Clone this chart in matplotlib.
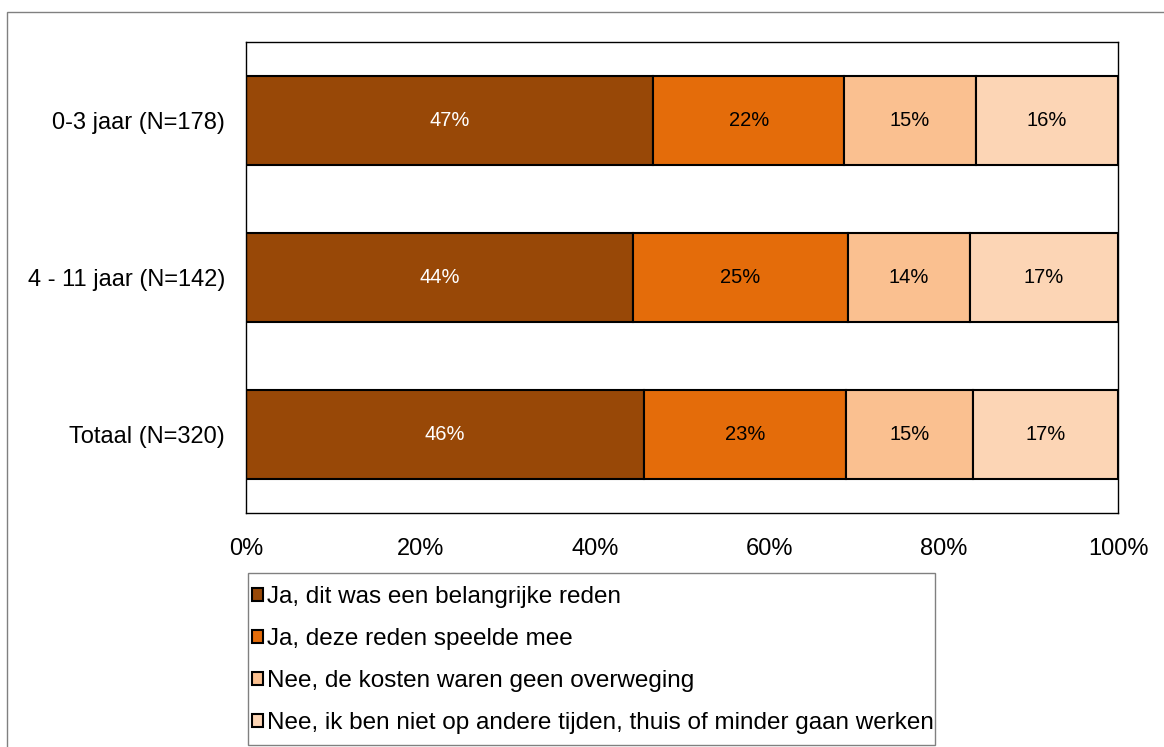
import matplotlib.pyplot as plt
from matplotlib.patches import Rectangle

plt.rcParams['font.family'] = ['Liberation Sans', 'DejaVu Sans']

categories = ['0-3 jaar (N=178)', '4 - 11 jaar (N=142)', 'Totaal (N=320)']
series = [
    'Ja, dit was een belangrijke reden',
    'Ja, deze reden speelde mee',
    'Nee, de kosten waren geen overweging',
    'Nee, ik ben niet op andere tijden, thuis of minder gaan werken',
]
values = [
    [46.7, 44.4, 45.6],
    [21.9, 24.6, 23.2],
    [15.1, 14.0, 14.6],
    [16.3, 17.0, 16.6],
]
colors = ['#984807', '#E46C0A', '#FAC090', '#FCD5B5']
text_colors = ['white', 'black', 'black', 'black']
xticks = [0, 20, 40, 60, 80, 100]

W, H = 1164, 747
fig = plt.figure(figsize=(W / 100, H / 100), dpi=100)
ax = fig.add_axes([246 / W, 1 - 513 / H, 872 / W, 471 / H])

ypos = list(range(len(categories)))
left = [0.0] * len(categories)
for vals, col, tcol, name in zip(values, colors, text_colors, series):
    bars = ax.barh(ypos, vals, left=left, height=0.573, color=col,
                   edgecolor='black', linewidth=1.5, label=name)
    for b, v in zip(bars, vals):
        ax.text(b.get_x() + b.get_width() / 2, b.get_y() + b.get_height() / 2,
                f'{v:.0f}%', ha='center', va='center', color=tcol, fontsize=14.5)
    left = [l + v for l, v in zip(left, vals)]

ax.set_xlim(0, 100)
ax.set_ylim(2.5, -0.5)
ax.set_yticks(ypos)
ax.set_yticklabels(categories, fontsize=17)
ax.set_xticks(xticks)
ax.set_xticklabels([f'{t}%' for t in xticks], fontsize=17)
ax.tick_params(length=0)
ax.tick_params(axis='y', pad=15)
ax.tick_params(axis='x', pad=18)
for s in ax.spines.values():
    s.set_linewidth(1.0)
    s.set_color('black')

# legend box drawn by hand so the squares can sit close to the left edge
fig.patches.append(Rectangle((248 / W, 1 - 745 / H), 687 / W, 172 / H,
                             transform=fig.transFigure, fill=False,
                             edgecolor='#808080', linewidth=1.0))
leg = fig.legend(loc='upper left', bbox_to_anchor=(252 / W, 1 - 586 / H),
                 fontsize=17.5, frameon=False,
                 handlelength=0.45, handleheight=0.45, handletextpad=0.15,
                 labelspacing=0.82, borderpad=0, borderaxespad=0)
for h in leg.legend_handles:
    h.set_linewidth(1.5)

fig.patches.append(Rectangle((7 / W, -0.1), 1.2, 1 - 12 / H + 0.1,
                             transform=fig.transFigure, fill=False,
                             edgecolor='#808080', linewidth=1.0))

fig.savefig('out.png', dpi=100)
